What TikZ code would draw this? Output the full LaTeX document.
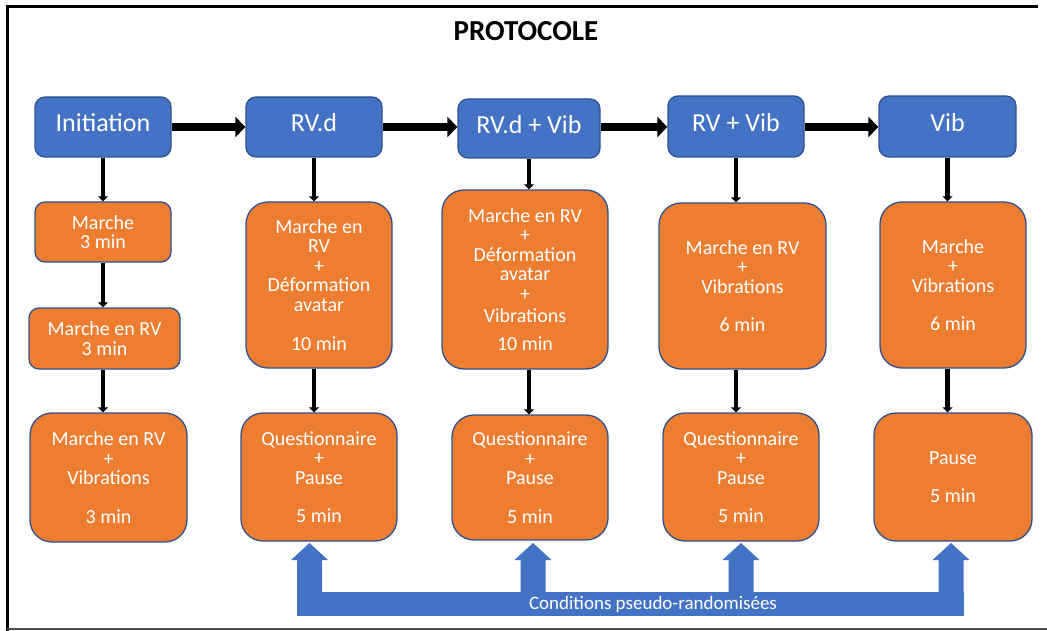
\documentclass[tikz,border=0pt]{standalone}
\usepackage[usenames,dvipsnames]{xcolor}
\usepackage{tikz}
\usepackage{fontspec}
\setmainfont{Carlito}
\usetikzlibrary{arrows.meta,calc}
\definecolor{stageblue}{HTML}{4472C4}
\definecolor{taskorange}{HTML}{ED7D31}
\definecolor{edgeblue}{HTML}{2F528F}

\begin{document}
\begin{tikzpicture}[x=1pt,y=-1pt]
    % `stage' is used for the blue condition boxes on top.
    % `task' is used for the orange boxes below them.
    % `flow' and `link' are the black arrows.
    \tikzstyle{stage} = [draw=edgeblue,fill=stageblue,line width=1.3pt,rounded corners=10pt,text=white,font=\fontsize{26}{30}\selectfont,inner sep=0pt,minimum height=60pt,text height=18pt,text depth=8pt]
    \tikzstyle{task} = [draw=edgeblue,fill=taskorange,line width=1.3pt,rounded corners=22pt,text=white,align=center,font=\fontsize{20}{19.5}\selectfont,inner sep=0pt]
    \tikzstyle{flow} = [line width=8pt,-{Triangle[length=10pt,width=20pt]}]
    \tikzstyle{link} = [line width=4.5pt,-{Triangle[length=5pt,width=10pt]}]
    \useasboundingbox (0,0) rectangle (1047,631);
    % Frame and title.
    \draw[line width=3pt] (7,631) -- (7,6.5) -- (1038,6.5);
    \draw[line width=2pt,black!70] (7,629) -- (1047,629);
    \node[font=\bfseries\fontsize{29}{32}\selectfont] (title) at (526,31) {PROTOCOLE};
    %
    % First row: the conditions.
    \node[stage,minimum width=136pt] (ini) at (103,127) {Initiation};
    \node[stage,minimum width=136pt] (rvd) at (314,127) {RV.d};
    \node[stage,minimum width=142pt,minimum height=59pt] (rvdv) at (529,128.5) {RV.d + Vib};
    \node[stage,minimum width=136pt,minimum height=61pt] (rvv) at (736,126.5) {RV + Vib};
    \node[stage,minimum width=137pt,minimum height=61pt] (vib) at (947.5,126.5) {Vib};
    %
    % Initiation column.
    \node[task,rounded corners=10pt,minimum width=136pt,minimum height=60pt] (m1) at (103,232) {Marche\\3 min};
    \node[task,rounded corners=10pt,minimum width=151pt,minimum height=61pt] (m2) at (104.5,338.5) {Marche en RV\\3 min};
    \node[task,minimum width=157pt,minimum height=129pt] (m3) at (108.5,477.5) {Marche en RV\\+\\Vibrations\\[19pt]3 min};
    %
    % Second row: the walks.
    \node[task,minimum width=146pt,minimum height=166pt] (d1) at (319,285) {Marche en\\RV\\+\\Déformation\\avatar\\[20pt]10 min};
    \node[task,minimum width=166pt,minimum height=179pt] (d2) at (525,279.5) {Marche en RV\\+\\Déformation\\avatar\\+\\[3pt]Vibrations\\[8pt]10 min};
    \node[task,minimum width=167pt,minimum height=166pt] (d3) at (742.5,286) {Marche en RV\\+\\Vibrations\\[19pt]6 min};
    \node[task,minimum width=146pt,minimum height=166pt] (d4) at (953,285) {Marche\\+\\Vibrations\\[19pt]6 min};
    %
    % Third row: the breaks.
    \node[task,minimum width=156pt,minimum height=128pt] (q2) at (319,477) {Questionnaire\\+\\Pause\\[19pt]5 min};
    \node[task,minimum width=156pt,minimum height=125pt] (q3) at (530,477.5) {Questionnaire\\+\\Pause\\[19pt]5 min};
    \node[task,minimum width=156pt,minimum height=128pt] (q4) at (741,477) {Questionnaire\\+\\Pause\\[19pt]5 min};
    \node[task,minimum width=158pt,minimum height=128pt] (q5) at (953,477) {Pause\\[19pt]5 min};
    %
    % Arrows.
    \foreach \a/\b in {ini/rvd,rvd/rvdv,rvdv/rvv,rvv/vib}
        \draw[flow] (\a.east |- ini.east) -- (\b.west |- ini.east);
    \draw[link] (ini.south) -- (m1.north);
    \draw[link] (m1.south) -- (m1.south |- m2.north);
    \draw[link] (m1.south |- m2.south) -- (m1.south |- m3.north);
    \foreach \s/\t/\u in {rvd/d1/q2,rvdv/d2/q3,rvv/d3/q4,vib/d4/q5} {
        \draw[link] (\s.south) -- (\s.south |- \t.north);
        \draw[link] (\s.south |- \t.south) -- (\s.south |- \u.north);
    }
    %
    % Pseudo-random order.
    \fill[stageblue] (297,592) rectangle (963.5,616);
    \foreach \c in {309.5,533,741,951}
        \fill[stageblue] (\c-12.5,600) -- (\c-12.5,560) -- (\c-18.5,560) -- (\c,543)
            -- (\c+18.5,560) -- (\c+12.5,560) -- (\c+12.5,600) -- cycle;
    \node[text=white,font=\fontsize{19}{22}\selectfont] (cond) at (653,604) {Conditions pseudo-randomisées};
\end{tikzpicture}
\end{document}
